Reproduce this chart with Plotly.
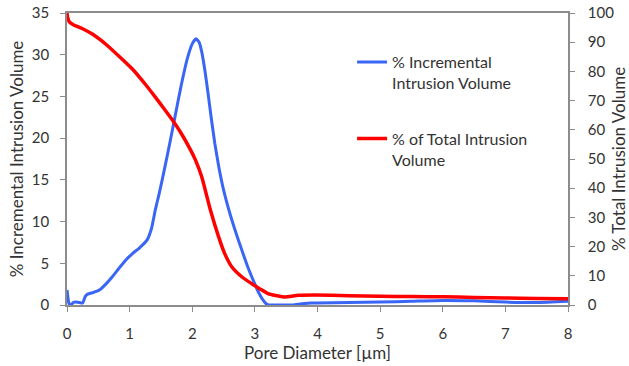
import plotly.graph_objects as go

# Data
inc_x = [0.00, 0.01, 0.03, 0.06, 0.10, 0.14, 0.20, 0.25, 0.29, 0.33, 0.42, 0.51, 0.62, 0.72, 0.83, 0.94,
         1.05, 1.15, 1.28, 1.35, 1.41, 1.47, 1.52, 1.62, 1.72, 1.82, 1.92, 2.00, 2.06, 2.11, 2.15,
         2.20, 2.25, 2.30, 2.36, 2.43, 2.50, 2.60, 2.70, 2.80, 2.89, 3.00, 3.06, 3.12, 3.18, 3.22, 3.40,
         3.60, 3.75, 3.90, 4.00, 4.50, 5.00, 5.50, 6.00, 6.50, 7.00, 7.50, 8.00]
inc_y = [1.8, 1.2, 0.2, 0.0, 0.3, 0.36, 0.3, 0.24, 1.0, 1.3, 1.5, 1.76, 2.5, 3.36, 4.4, 5.4,
         6.2, 6.8, 7.8, 9.2, 11.4, 13.3, 15.0, 18.6, 22.4, 26.2, 29.5, 31.3, 31.9, 31.5, 30.4,
         28.2, 25.5, 22.6, 19.4, 16.3, 13.8, 11.0, 8.6, 6.4, 4.5, 2.5, 1.5, 0.7, 0.15, 0.0, 0.0,
         0.0, 0.15, 0.25, 0.25, 0.3, 0.35, 0.45, 0.55, 0.5, 0.35, 0.3, 0.45]

tot_x = [0.00, 0.01, 0.04, 0.10, 0.25, 0.41, 0.62, 0.83, 1.04, 1.25, 1.41, 1.55, 1.68, 1.82, 1.97,
         2.05, 2.15, 2.29, 2.42, 2.52, 2.63, 2.80, 2.95, 3.08, 3.21, 3.46, 3.69, 3.95, 4.50,
         5.00, 5.50, 6.00, 6.50, 7.00, 7.50, 8.00]
tot_y = [100, 98.5, 96.9, 96.0, 94.6, 92.7, 89.3, 85.2, 80.9, 75.6, 71.2, 67.2, 63.4, 58.9, 53.2,
         49.7, 44.0, 32.5, 23.4, 17.5, 13.1, 9.5, 7.3, 5.5, 3.9, 2.75, 3.3, 3.4, 3.2,
         3.0, 2.9, 2.8, 2.6, 2.4, 2.2, 2.1]

x_ticks = [0, 1, 2, 3, 4, 5, 6, 7, 8]
y1_ticks = [0, 5, 10, 15, 20, 25, 30, 35]
y2_ticks = [0, 10, 20, 30, 40, 50, 60, 70, 80, 90, 100]

FONT = "Lato"
TXT = "#333333"
AX = "#8c8c8c"

fig = go.Figure()
fig.add_trace(go.Scatter(
    x=inc_x, y=inc_y, mode="lines", name="% Incremental<br>Intrusion Volume",
    line=dict(color="#3a66f5", width=3, shape="spline", smoothing=0.5),
    legend="legend"))
fig.add_trace(go.Scatter(
    x=tot_x, y=tot_y, mode="lines", name="% of Total Intrusion<br>Volume",
    line=dict(color="#ff0000", width=3.5, shape="spline", smoothing=0.5),
    yaxis="y2", legend="legend2"))

axis_common = dict(showline=True, linecolor=AX, linewidth=1.5, ticks="outside",
                   ticklen=5, tickcolor=AX, showgrid=False, zeroline=False,
                   automargin=False,
                   tickfont=dict(family=FONT, size=15, color=TXT))

fig.update_layout(
    width=629, height=366,
    margin=dict(l=67, r=61, t=13, b=61),
    paper_bgcolor="white", plot_bgcolor="white",
    font=dict(family=FONT, size=16, color=TXT),
    xaxis=dict(range=[0, 8], tickvals=x_ticks, mirror=True, ticklabelstandoff=9,
               title=dict(text="Pore Diameter [µm]", standoff=4, font=dict(size=17)),
               **axis_common),
    yaxis=dict(range=[0, 35], tickvals=y1_ticks, ticklabelstandoff=8,
               title=dict(text="% Incremental Intrusion Volume", standoff=4, font=dict(size=17)),
               **axis_common),
    yaxis2=dict(range=[0, 100], tickvals=y2_ticks, overlaying="y", side="right",
                ticklabelstandoff=10,
                title=dict(text="% Total Intrusion Volume", standoff=10, font=dict(size=17)),
                **axis_common),
    legend=dict(x=0.569, y=0.89, xanchor="left", yanchor="top", valign="top",
                bgcolor="rgba(0,0,0,0)", font=dict(family=FONT, size=16, color=TXT)),
    legend2=dict(x=0.569, y=0.628, xanchor="left", yanchor="top", valign="top",
                 bgcolor="rgba(0,0,0,0)", font=dict(family=FONT, size=16, color=TXT)),
    showlegend=True,
)

fig.write_html("out.html")
